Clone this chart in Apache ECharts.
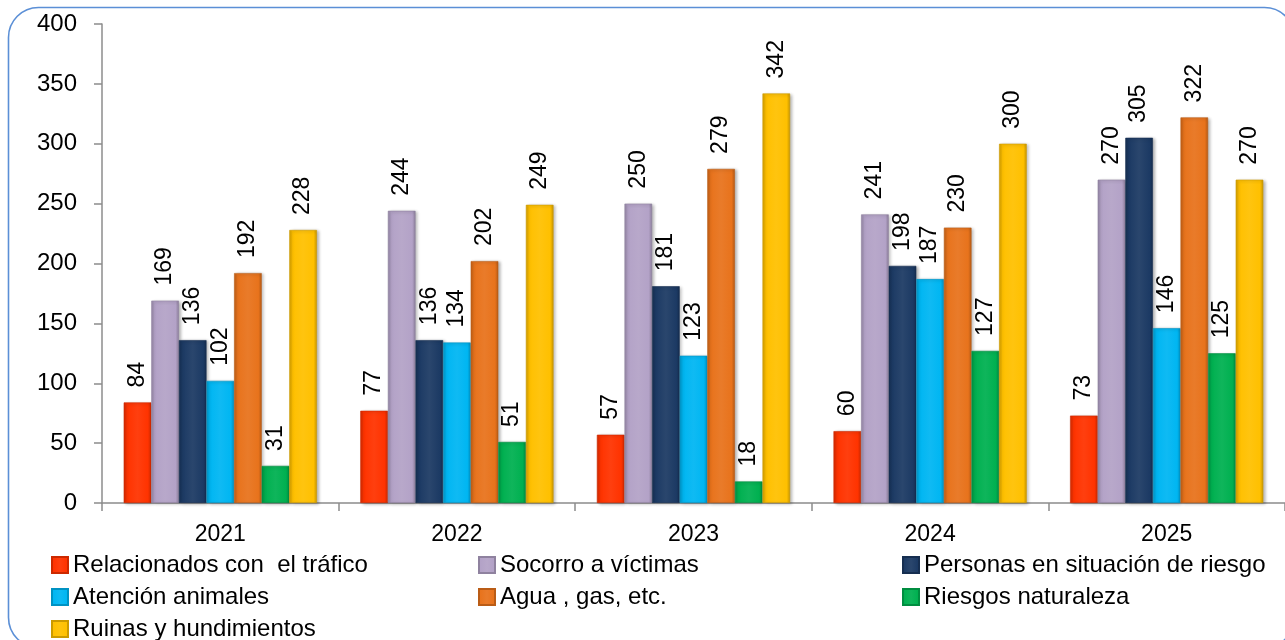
<!DOCTYPE html>
<html>
<head>
<meta charset="utf-8">
<script src="https://cdn.jsdelivr.net/npm/echarts@6/dist/echarts.min.js"></script>
<style>
html,body{margin:0;padding:0;background:#fff;}
#c{width:1285px;height:640px;}
</style>
</head>
<body>
<div id="c"></div>
<script>
const categories = ['2021', '2022', '2023', '2024', '2025'];
const seriesNames = [
  'Relacionados con  el tráfico',
  'Socorro a víctimas',
  'Personas en situación de riesgo',
  'Atención animales',
  'Agua , gas, etc.',
  'Riesgos naturaleza',
  'Ruinas y hundimientos'
];
const trafico    = [84, 77, 57, 60, 73];
const socorro    = [169, 244, 250, 241, 270];
const personas   = [136, 136, 181, 198, 305];
const animales   = [102, 134, 123, 187, 146];
const agua       = [192, 202, 279, 230, 322];
const naturaleza = [31, 51, 18, 127, 125];
const ruinas     = [228, 249, 342, 300, 270];
const yTicks = { min: 0, max: 400, interval: 50 };

const seriesValues = [trafico, socorro, personas, animales, agua, naturaleza, ruinas];
const baseColors = ['#FF3300', '#B3A2C7', '#1C3A64', '#00B6F2', '#E8731C', '#00B050', '#FFC000'];

function shade(hex, f) {
  const n = parseInt(hex.slice(1), 16);
  let r = (n >> 16) & 255, g = (n >> 8) & 255, b = n & 255;
  if (f < 0) { r = Math.round(r * (1 + f)); g = Math.round(g * (1 + f)); b = Math.round(b * (1 + f)); }
  else { r = Math.round(r + (255 - r) * f); g = Math.round(g + (255 - g) * f); b = Math.round(b + (255 - b) * f); }
  return 'rgb(' + r + ',' + g + ',' + b + ')';
}
function grad(hex) {
  return new echarts.graphic.LinearGradient(0, 0, 1, 0, [
    { offset: 0, color: shade(hex, -0.18) },
    { offset: 0.12, color: hex },
    { offset: 0.5, color: shade(hex, 0.06) },
    { offset: 0.88, color: hex },
    { offset: 1, color: shade(hex, -0.22) }
  ]);
}

const FONT = '"Liberation Sans", Arial, sans-serif';

const chart = echarts.init(document.getElementById('c'), null, { renderer: 'canvas' });

const series = seriesNames.map((name, i) => ({
  name: name,
  type: 'bar',
  data: seriesValues[i],
  barWidth: 27.6,
  barGap: '0%',
  itemStyle: {
    color: grad(baseColors[i]),
    borderColor: shade(baseColors[i], -0.2),
    borderWidth: 0.6,
    shadowColor: 'rgba(0,0,0,0.3)',
    shadowBlur: 3,
    shadowOffsetX: 2,
    shadowOffsetY: 1
  },
  label: {
    show: true,
    position: 'top',
    rotate: 90,
    align: 'left',
    verticalAlign: 'middle',
    distance: 15,
    color: '#000',
    fontFamily: FONT,
    fontSize: 23
  },
  emphasis: { disabled: true }
}));

// legend placement: 3 columns, rows of pitch 32px
const legendCols = [51, 478, 902];
const legendRows = [553, 585, 617];
const legends = seriesNames.map((name, i) => ({
  data: [name],
  left: legendCols[i % 3],
  top: legendRows[Math.floor(i / 3)],
  padding: 0,
  itemWidth: 16,
  itemHeight: 16,
  icon: 'rect',
  textStyle: { fontFamily: FONT, fontSize: 24, color: '#000', lineHeight: 24 },
  selectedMode: false
}));

chart.setOption({
  animation: false,
  backgroundColor: '#fff',
  graphic: [{
    type: 'rect',
    shape: { x: 8.5, y: 7.5, width: 1286, height: 640, r: 30 },
    style: { fill: 'none', stroke: '#5B8FD6', lineWidth: 1.6 },
    z: -1
  }],
  legend: legends,
  grid: { left: 102, top: 24, width: 1194, height: 479 },
  xAxis: {
    type: 'category',
    data: categories,
    axisLine: { lineStyle: { color: '#8C8C8C', width: 1.5 } },
    axisTick: { show: true, length: 8, lineStyle: { color: '#8C8C8C', width: 1.5 } },
    axisLabel: { color: '#000', fontFamily: FONT, fontSize: 23, margin: 20 },
    splitLine: { show: false }
  },
  yAxis: {
    type: 'value',
    min: yTicks.min,
    max: yTicks.max,
    interval: yTicks.interval,
    axisLine: { show: true, lineStyle: { color: '#8C8C8C', width: 1.5 } },
    axisTick: { show: true, length: 8, lineStyle: { color: '#8C8C8C', width: 1.5 } },
    axisLabel: { color: '#000', fontFamily: FONT, fontSize: 24, margin: 25 },
    splitLine: { show: false }
  },
  series: series
});
</script>
</body>
</html>
